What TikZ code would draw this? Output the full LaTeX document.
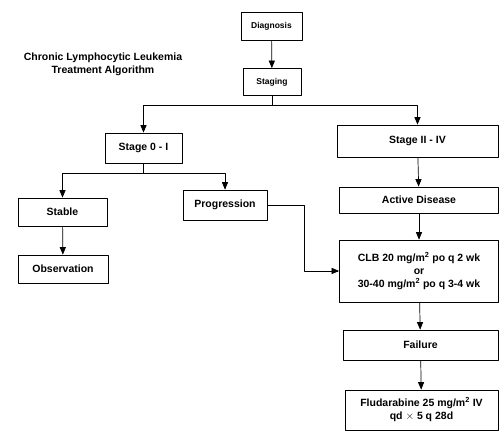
\documentclass[tikz,border=0pt]{standalone}
\usepackage{fontspec}
\setmainfont{Liberation Sans}
\usepackage{tikz}
\usetikzlibrary{arrows}

\begin{document}
\begin{tikzpicture}[line cap=round,line join=round,>=triangle 45,x=1pt,y=-1pt,
  box/.style={draw,line width=0.9pt,inner sep=1pt,align=center,font=\bfseries\fontsize{10.5}{13}\selectfont},
  smallbox/.style={box,font=\bfseries\fontsize{8.5}{11}\selectfont},
  link/.style={line width=0.7pt,->}]
\useasboundingbox (0,0) rectangle (499,435);
\node (title) at (103,64) [align=center,font=\bfseries\fontsize{10.5}{13}\selectfont] {Chronic Lymphocytic Leukemia\\Treatment Algorithm};
\node (diag) at (271.5,26) [smallbox,minimum width=61pt,minimum height=28pt] {Diagnosis};
\node (stag) at (272,82) [smallbox,minimum width=58pt,minimum height=27pt] {Staging};
\node (sa) at (143.5,148) [box,minimum width=77pt,minimum height=30pt] {Stage 0 - I};
\node (sb) at (417.5,141) [box,minimum width=161pt,minimum height=32pt] {Stage II - IV};
\node (stab) at (62.5,212) [box,minimum width=89pt,minimum height=28pt] {Stable};
\node (prog) at (225,205) [box,minimum width=84pt,minimum height=30pt] {Progression};
\node (obs) at (63,269) [box,minimum width=90pt,minimum height=28pt] {Observation};
\node (act) at (419,200) [box,minimum width=159pt,minimum height=26pt] {Active Disease};
\node (clb) at (419,271) [box,minimum width=159pt,minimum height=62pt] {CLB 20 mg/m\textsuperscript{2} po q 2 wk\\or\\30-40 mg/m\textsuperscript{2} po q 3-4 wk};
\node (fail) at (420.5,345) [box,minimum width=155pt,minimum height=30pt] {Failure};
\node (flud) at (421.5,410) [box,minimum width=153pt,minimum height=40pt] {Fludarabine 25 mg/m\textsuperscript{2} IV\\qd $\times$ 5 q 28d};
\draw [link] (diag) -- (stag);
\draw [link] (stag.south) -- ++(0,9) -| (sa.north);
\draw [link] (stag.south) -- ++(0,9) -| (sb.north);
\draw [link] (sa.south) -- ++(0,10) -| (stab.north);
\draw [link] (sa.south) -- ++(0,10) -| (prog.north);
\draw [link] (stab) -- (obs);
\draw [link] (prog.east) -- ++(37,0) |- (clb.west);
\draw [link] (sb) -- (act);
\draw [link] (act) -- (clb);
\draw [link] (clb) -- (fail);
\draw [link] (fail) -- (flud);
\end{tikzpicture}
\end{document}
